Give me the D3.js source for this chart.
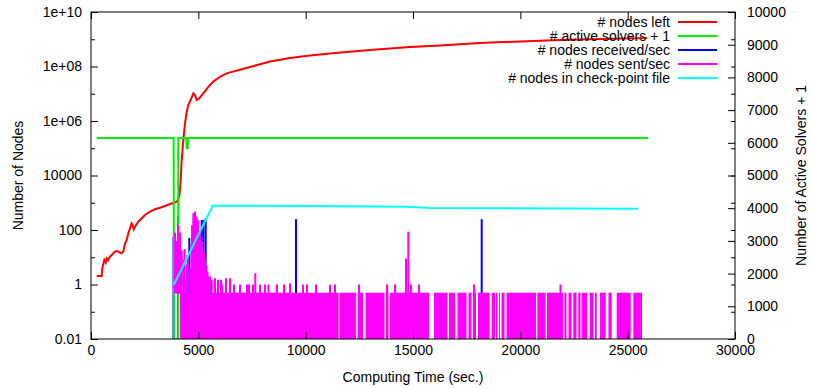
<!DOCTYPE html>
<html>
<head>
<meta charset="utf-8">
<script src="https://cdn.jsdelivr.net/npm/d3@7"></script>
<style>
  body { margin: 0; background: #fff; }
  svg text { font-family: "Liberation Sans", Arial, sans-serif; font-size: 14px; fill: #000; }
</style>
</head>
<body>
<svg id="chart" width="813" height="388"></svg>
<script>
// ---- data ----
// # nodes left  [time (sec), nodes]
const nodesLeft = [
  [265, 2.05], [498, 2.05], [526, 3.9], [573, 5.6], [620, 7.9], [685, 6.3], [731, 9.1],
  [806, 7.9], [885, 10.5], [964, 12.1], [1039, 14], [1118, 16], [1197, 17], [1272, 16],
  [1398, 14], [1505, 16], [1551, 24], [1584, 32], [1663, 43], [1738, 76], [1817, 115],
  [1896, 176], [1943, 152], [1989, 106], [2050, 132], [2203, 202], [2362, 269], [2516, 355],
  [2749, 470], [2981, 575], [3214, 658], [3447, 760], [3680, 900], [3880, 1005], [4006, 1094],
  [4123, 1925], [4179, 6840], [4225, 37000], [4300, 2.0e5], [4379, 8.2e5], [4458, 2.2e6],
  [4533, 3.9e6], [4644, 5.9e6], [4766, 1.04e7], [4845, 9.0e6], [4924, 5.9e6], [5045, 6.8e6],
  [5231, 1.04e7], [5464, 1.8e7], [5697, 2.8e7], [6009, 4.2e7], [6321, 5.6e7], [6475, 6.1e7],
  [6941, 7.6e7], [7407, 9.6e7], [8339, 1.52e8], [9270, 2.05e8], [10202, 2.53e8],
  [11366, 3.1e8], [12997, 4.0e8], [14860, 5.2e8], [16258, 5.9e8], [18121, 7.3e8],
  [19985, 8.3e8], [21848, 9.4e8], [23711, 1.02e9], [25900, 1.11e9]
];
// # active solvers + 1  [time, solvers]  (right axis)
const activeSolvers = [
  [265, 6144], [3850, 6144], [3866, 1], [4060, 1], [4067, 6144], [4440, 6144],
  [4458, 5830], [4500, 5830], [4520, 6144], [25950, 6144]
];
// # nodes received/sec  [time, rate]
const nodesReceived = [
  [3843, 56], [4053, 310], [4346, 0.8], [4579, 51], [5157, 234], [5241, 234],
  [5343, 277], [9550, 250], [18200, 250]
];
// # nodes sent/sec : periods at the base rate of 0.5/sec  [from, to]
const sentBaseRate = 0.5;
const sentRuns = [
  [4146, 11530], [11576, 12345], [12415, 12671], [12787, 13672], [13742, 13859],
  [13929, 15745], [15978, 16607], [16677, 16957], [17073, 17492], [17585, 17725],
  [17795, 17935], [18028, 18564], [18666, 18820], [18867, 18937], [19006, 19053],
  [19123, 19262], [19356, 20730], [20790, 21172], [21242, 21988], [22058, 22151],
  [22244, 22384], [22467, 22617], [22700, 22803], [22859, 23106], [23232, 23408],
  [23478, 23558], [23711, 23977], [24107, 24256], [24489, 25142], [25262, 25668]
];
// # nodes sent/sec : peaks above the base rate  [time, rate]
const sentPeaks = [
  [3913, 80], [3983, 40], [4067, 150], [4146, 80], [4225, 18], [4300, 8], [4356, 20],
  [4458, 5], [4495, 12], [4612, 4], [4682, 30], [4705, 150], [4766, 410], [4845, 470],
  [4924, 310], [4961, 120], [4998, 230], [5031, 60], [5078, 80], [5157, 40], [5203, 25],
  [5264, 15], [5311, 8], [5380, 5], [5427, 3], [5464, 2], [5543, 2], [5623, 1.5],
  [5776, 1.7], [5916, 1.5], [6056, 1.5], [6102, 1],
  [6289, 1.7], [6475, 1.7], [6662, 1], [6941, 1], [7267, 1], [7361, 1], [7547, 1],
  [7654, 2.6], [7873, 1], [8106, 1], [8269, 1], [8665, 1], [8991, 1], [9270, 1.1],
  [9876, 1], [10062, 1], [10481, 1], [11134, 1], [11367, 1], [12485, 1], [13789, 1],
  [14162, 1], [14674, 9], [14781, 87], [14907, 1], [15280, 1], [17842, 1], [21871, 1]
];
// # nodes in check-point file  [time, nodes]
const checkpointNodes = [
  [3866, 1], [5665, 780], [10000, 760], [14700, 720], [15800, 640], [25480, 600]
];

const seriesNames = ["# nodes left", "# active solvers + 1", "# nodes received/sec",
  "# nodes sent/sec", "# nodes in check-point file"];
const seriesColors = ["#ff0000", "#00ee00", "#0000ff", "#ff00ff", "#00ffff"];

const xTicks = [0, 5000, 10000, 15000, 20000, 25000, 30000];
const yTicks = [0.01, 1, 100, 1e4, 1e6, 1e8, 1e10];
const yTickLabels = ["0.01", "1", "100", "10000", "1e+06", "1e+08", "1e+10"];
const yMinorTicks = [0.1, 10, 1000, 1e5, 1e7, 1e9];
const y2Ticks = [0, 1000, 2000, 3000, 4000, 5000, 6000, 7000, 8000, 9000, 10000];

// ---- layout ----
const svg = d3.select("#chart");
const pLeft = 91, pRight = 735, pTop = 12, pBottom = 339;

const x = d3.scaleLinear().domain([0, 30000]).range([pLeft, pRight]);
const y = d3.scaleLog().domain([0.01, 1e10]).range([pBottom, pTop]);
const y2 = d3.scaleLinear().domain([0, 10000]).range([pBottom, pTop]);

svg.append("clipPath").attr("id", "plot")
  .append("rect").attr("x", pLeft).attr("y", pTop)
  .attr("width", pRight - pLeft).attr("height", pBottom - pTop);

const plot = svg.append("g").attr("clip-path", "url(#plot)");

// red: nodes left
plot.append("path")
  .datum(nodesLeft)
  .attr("fill", "none").attr("stroke", seriesColors[0]).attr("stroke-width", 2)
  .attr("d", d3.line().x(d => x(d[0])).y(d => y(d[1])));

// blue impulses: received
plot.selectAll(".recv").data(nodesReceived).enter().append("line")
  .attr("class", "recv")
  .attr("x1", d => x(d[0])).attr("x2", d => x(d[0]))
  .attr("y1", pBottom).attr("y2", d => y(d[1]))
  .attr("stroke", seriesColors[2]).attr("stroke-width", 2);

// green: active solvers (right axis)
plot.append("path")
  .datum(activeSolvers)
  .attr("fill", "none").attr("stroke", seriesColors[1]).attr("stroke-width", 2)
  .attr("d", d3.line().x(d => x(d[0])).y(d => y2(d[1])));

// magenta: sent
plot.selectAll(".sentRun").data(sentRuns).enter().append("rect")
  .attr("class", "sentRun")
  .attr("x", d => x(d[0])).attr("width", d => x(d[1]) - x(d[0]))
  .attr("y", y(sentBaseRate)).attr("height", pBottom - y(sentBaseRate))
  .attr("fill", seriesColors[3]);

plot.selectAll(".sentPeak").data(sentPeaks).enter().append("line")
  .attr("class", "sentPeak")
  .attr("x1", d => x(d[0])).attr("x2", d => x(d[0]))
  .attr("y1", y(sentBaseRate) + 1).attr("y2", d => y(d[1]))
  .attr("stroke", seriesColors[3]).attr("stroke-width", 2);

// cyan: checkpoint
plot.append("path")
  .datum(checkpointNodes)
  .attr("fill", "none").attr("stroke", seriesColors[4]).attr("stroke-width", 2)
  .attr("d", d3.line().x(d => x(d[0])).y(d => y(d[1])));

// ---- axes ----
svg.append("g").attr("transform", "translate(0," + pBottom + ")")
  .call(d3.axisBottom(x).tickValues(xTicks).tickFormat(d3.format("d"))
    .tickSizeInner(-7).tickSizeOuter(0).tickPadding(6));
svg.append("g").attr("transform", "translate(0," + pTop + ")")
  .call(d3.axisTop(x).tickValues(xTicks).tickFormat("").tickSizeInner(-7).tickSizeOuter(0));

svg.append("g").attr("transform", "translate(" + pLeft + ",0)")
  .call(d3.axisLeft(y).tickValues(yTicks).tickFormat((d, i) => yTickLabels[i])
    .tickSizeInner(-7).tickSizeOuter(0).tickPadding(9));
svg.append("g").attr("transform", "translate(" + pLeft + ",0)")
  .call(d3.axisLeft(y).tickValues(yMinorTicks).tickFormat("").tickSizeInner(-4).tickSizeOuter(0));
svg.append("g").attr("transform", "translate(" + pRight + ",0)")
  .call(d3.axisRight(y).tickValues(yTicks.concat(yMinorTicks)).tickFormat("")
    .tickSizeInner(-4).tickSizeOuter(0));

svg.append("g").attr("transform", "translate(" + pRight + ",0)")
  .call(d3.axisRight(y2).tickValues(y2Ticks).tickFormat(d3.format("d"))
    .tickSizeInner(-7).tickSizeOuter(0).tickPadding(12));

svg.selectAll(".domain").remove();
svg.selectAll(".tick line").attr("stroke", "#000");
svg.selectAll("g").attr("font-size", null).attr("font-family", null);

svg.append("rect").attr("x", pLeft).attr("y", pTop)
  .attr("width", pRight - pLeft).attr("height", pBottom - pTop)
  .attr("fill", "none").attr("stroke", "#000").attr("stroke-width", 1);

// axis titles
svg.append("text").attr("x", (pLeft + pRight) / 2).attr("y", 382)
  .attr("text-anchor", "middle").text("Computing Time (sec.)");
svg.append("text").attr("transform", "translate(23," + (pTop + pBottom) / 2 + ") rotate(-90)")
  .attr("text-anchor", "middle").text("Number of Nodes");
svg.append("text").attr("transform", "translate(806," + (pTop + pBottom) / 2 + ") rotate(-90)")
  .attr("text-anchor", "middle").text("Number of Active Solvers + 1");

// legend
const legend = svg.append("g").selectAll("g").data(seriesNames).enter().append("g")
  .attr("transform", (d, i) => "translate(0," + (22 + i * 14) + ")");
legend.append("text").attr("x", 670).attr("y", 5).attr("text-anchor", "end").text(d => d);
legend.append("line").attr("x1", 678).attr("x2", 717).attr("y1", 0).attr("y2", 0)
  .attr("stroke", (d, i) => seriesColors[i]).attr("stroke-width", 2);
</script>
</body>
</html>
